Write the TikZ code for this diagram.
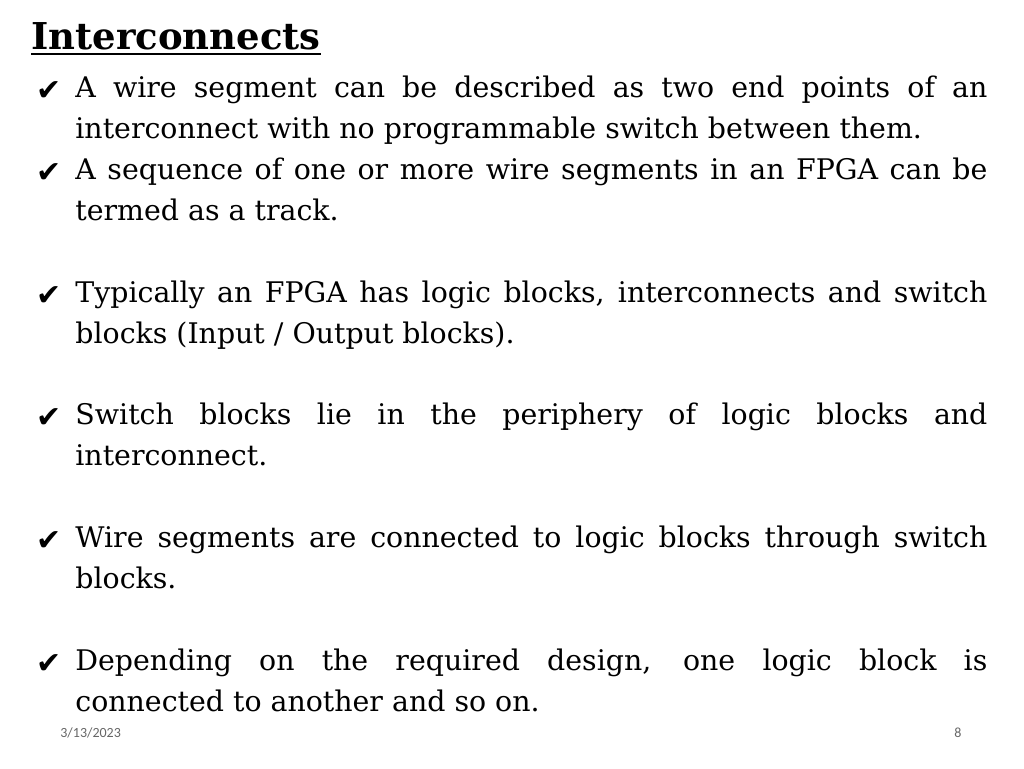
\documentclass[tikz,border=0pt]{standalone}
\usepackage{fontspec}
\setmainfont{DejaVu Serif}
\newfontfamily\symfont{DejaVu Sans}
\newfontfamily\footfont{Carlito}
\usetikzlibrary{positioning}

\begin{document}
\begin{tikzpicture}[x=0.5pt, y=-0.5pt,
  item/.style={anchor=north west, inner sep=0pt, text width=456pt, align=justify, font=\fontsize{14.2}{20.5}\selectfont},
  tick/.style={anchor=base west, inner sep=0pt, font=\symfont\fontsize{15}{15}\selectfont},
  foot/.style={inner sep=0pt, text=black!60, font=\footfont\fontsize{7}{8}\selectfont}]
    \useasboundingbox (0,0) rectangle (1024,768);

    %Title
    \node[anchor=base west, inner sep=0pt, font=\bfseries\fontsize{18.5}{24}\selectfont] (title) at (31,49) {Interconnects};
    \draw[line width=0.8pt] ([yshift=-2.5pt]title.base west) -- ([yshift=-2.5pt]title.base east);

    %Items
    \node[item] (i1) at (75,76) {A wire segment can be described as two end points of an\linebreak interconnect with no programmable switch between them.};
    \node[item] (i2) at (75,158) {A sequence of one or more wire segments in an FPGA can be\linebreak termed as a track.};
    \node[item] (i3) at (75,281) {Typically an FPGA has logic blocks, interconnects and switch\linebreak blocks (Input / Output blocks).};
    \node[item] (i4) at (75,403) {Switch blocks lie in the periphery of logic blocks and\linebreak interconnect.};
    \node[item] (i5) at (75,526) {Wire segments are connected to logic blocks through switch\linebreak blocks.};
    \node[item] (i6) at (75,649) {Depending on the required design, one logic block is\linebreak connected to another and so on.};

    %Ticks
    \foreach \i/\y in {1/100, 2/182, 3/305, 4/427, 5/550, 6/673}
        \node[tick] (ck\i) at (36,\y) {✔};

    %Footer
    \node[foot, anchor=west] (date) at (60,733) {3/13/2023};
    \node[foot] (page) at (958,733) {8};
\end{tikzpicture}
\end{document}
